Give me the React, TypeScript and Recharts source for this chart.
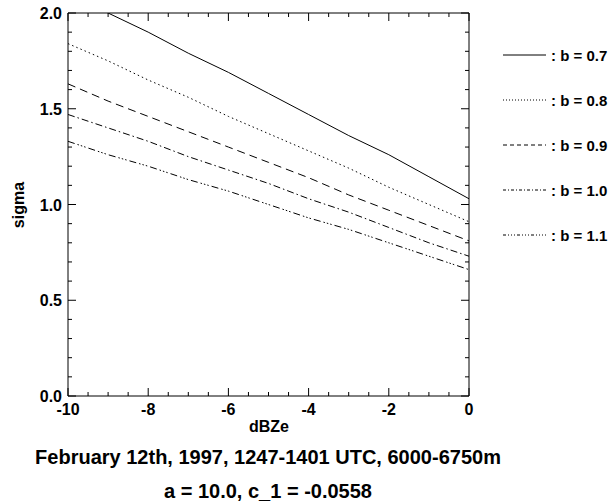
import { LineChart, Line, XAxis, YAxis } from 'recharts'

// dBZe values along the x axis
const dbze = [-10, -9, -8, -7, -6, -5, -4, -3, -2, -1, 0]

// sigma for each b
const b07 = [2.11, 2.0, 1.9, 1.79, 1.69, 1.58, 1.47, 1.36, 1.26, 1.145, 1.03]
const b08 = [1.84, 1.75, 1.65, 1.56, 1.46, 1.37, 1.28, 1.19, 1.09, 1.0, 0.91]
const b09 = [1.63, 1.54, 1.46, 1.38, 1.3, 1.22, 1.14, 1.05, 0.97, 0.89, 0.81]
const b10 = [1.47, 1.4, 1.33, 1.25, 1.18, 1.11, 1.03, 0.96, 0.88, 0.8, 0.73]
const b11 = [1.33, 1.26, 1.2, 1.13, 1.07, 1.0, 0.93, 0.87, 0.8, 0.73, 0.66]

const seriesKeys = ['b07', 'b08', 'b09', 'b10', 'b11']
const seriesLabels = [': b = 0.7', ': b = 0.8', ': b = 0.9', ': b = 1.0', ': b = 1.1']
const dashes = ['', '1.5 3', '8 5', '7 3 1.5 3', '7 3 1.5 2 1.5 2 1.5 3']
const legendDashes = ['', '1 2', '4 3', '3 2 1 2', '3 2 1 2 1 2 1 2']

const xTicks = [-10, -9.5, -9, -8.5, -8, -7.5, -7, -6.5, -6, -5.5, -5, -4.5, -4, -3.5, -3, -2.5, -2, -1.5, -1, -0.5, 0]
const xMajor = [-10, -8, -6, -4, -2, 0]
const yTicks = [0, 0.1, 0.2, 0.3, 0.4, 0.5, 0.6, 0.7, 0.8, 0.9, 1.0, 1.1, 1.2, 1.3, 1.4, 1.5, 1.6, 1.7, 1.8, 1.9, 2.0]
const yMajor = [0, 0.5, 1.0, 1.5, 2.0]

const data = dbze.map((x, i) => ({
  x,
  b07: b07[i],
  b08: b08[i],
  b09: b09[i],
  b10: b10[i],
  b11: b11[i],
}))

const font = '"Liberation Sans", Arial, Helvetica, sans-serif'
const isMajor = (list: number[], v: number) => list.some((m) => Math.abs(m - v) < 1e-6)

const BottomTick = (p: any) => {
  const v = p.payload.value
  const major = isMajor(xMajor, v)
  return (
    <g>
      <line x1={p.x} y1={p.y} x2={p.x} y2={p.y - (major ? 8 : 4)} stroke="#000" />
      {major && (
        <text x={p.x} y={p.y + 19} textAnchor="middle" fontFamily={font} fontWeight="bold" fontSize={16} fill="#000">
          {String(v)}
        </text>
      )}
    </g>
  )
}

const TopTick = (p: any) => {
  const major = isMajor(xMajor, p.payload.value)
  return <line x1={p.x} y1={p.y} x2={p.x} y2={p.y + (major ? 8 : 4)} stroke="#000" />
}

const LeftTick = (p: any) => {
  const v = p.payload.value
  const major = isMajor(yMajor, v)
  return (
    <g>
      <line x1={p.x} y1={p.y} x2={p.x + (major ? 8 : 4)} y2={p.y} stroke="#000" />
      {major && (
        <text x={p.x - 6} y={p.y + 6} textAnchor="end" fontFamily={font} fontWeight="bold" fontSize={16} fill="#000">
          {v.toFixed(1)}
        </text>
      )}
    </g>
  )
}

const RightTick = (p: any) => {
  const major = isMajor(yMajor, p.payload.value)
  return <line x1={p.x} y1={p.y} x2={p.x - (major ? 8 : 4)} y2={p.y} stroke="#000" />
}

const textStyle = { position: 'absolute' as const, fontFamily: font, fontWeight: 'bold' as const, color: '#000', whiteSpace: 'nowrap' as const }

export default function App() {
  return (
    <div style={{ position: 'absolute', left: 0, top: 0, width: 609, height: 502, overflow: 'hidden', background: '#fff' }}>
      <LineChart width={609} height={502} data={data} margin={{ top: 12, right: 139, bottom: 105, left: 67 }}>
        <XAxis xAxisId="b" dataKey="x" type="number" domain={[-10, 0]} ticks={xTicks} interval={0} orientation="bottom"
          height={1} tickSize={0} tickMargin={0} tick={BottomTick} axisLine={{ stroke: '#000' }} />
        <XAxis xAxisId="t" dataKey="x" type="number" domain={[-10, 0]} ticks={xTicks} interval={0} orientation="top"
          height={1} tickSize={0} tickMargin={0} tick={TopTick} axisLine={{ stroke: '#000' }} />
        <YAxis yAxisId="l" type="number" domain={[0, 2]} allowDataOverflow ticks={yTicks} interval={0} orientation="left"
          width={1} tickSize={0} tickMargin={0} tick={LeftTick} axisLine={{ stroke: '#000' }} />
        <YAxis yAxisId="r" type="number" domain={[0, 2]} allowDataOverflow ticks={yTicks} interval={0} orientation="right"
          width={1} tickSize={0} tickMargin={0} tick={RightTick} axisLine={{ stroke: '#000' }} />
        {seriesKeys.map((k, i) => (
          <Line key={k} xAxisId="b" yAxisId="l" type="linear" dataKey={k} stroke="#000" strokeWidth={1}
            strokeDasharray={dashes[i] || undefined} dot={false} activeDot={false} isAnimationActive={false} />
        ))}
      </LineChart>

      {seriesLabels.map((label, i) => (
        <div key={label} style={{ ...textStyle, left: 503, top: 46 + i * 45, fontSize: 15, display: 'flex', alignItems: 'center' }}>
          <svg width={43} height={18} style={{ marginRight: 5 }}>
            <line x1={0} y1={9} x2={43} y2={9} stroke="#000" strokeWidth={1} strokeDasharray={legendDashes[i] || undefined} />
          </svg>
          <span>{label}</span>
        </div>
      ))}

      <div style={{ ...textStyle, left: 19, top: 205, fontSize: 16, transform: 'translate(-50%, -50%) rotate(-90deg)' }}>
        sigma
      </div>
      <div style={{ ...textStyle, left: 269, top: 427, fontSize: 16, transform: 'translate(-50%, -50%)' }}>dBZe</div>
      <div style={{ ...textStyle, left: 268, top: 457, fontSize: 20, transform: 'translate(-50%, -50%)' }}>
        February 12th, 1997, 1247-1401 UTC, 6000-6750m
      </div>
      <div style={{ ...textStyle, left: 268, top: 491, fontSize: 20, transform: 'translate(-50%, -50%)' }}>
        a = 10.0, c_1 = -0.0558
      </div>
    </div>
  )
}
